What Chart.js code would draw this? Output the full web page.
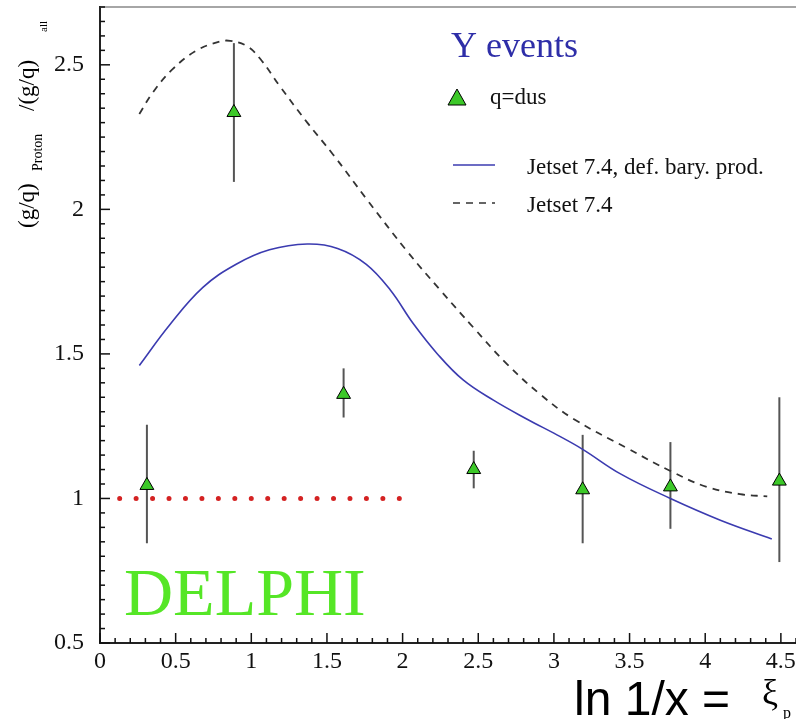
<!DOCTYPE html>
<html lang="en">
<head>
    <meta charset="UTF-8">
    <title>Proton g/q ratio vs xi_p</title>
    <script src="https://cdn.jsdelivr.net/npm/chart.js"></script>
    <style>
        body {
            margin: 0;
            background: white;
        }
        canvas {
            display: block;
        }
    </style>
</head>
<body>

    <canvas id="ratioChart" width="796" height="719"></canvas>

    <script>
        // DELPHI points (q=dus)
        const xiValues = [0.31, 0.885, 1.61, 2.47, 3.19, 3.77, 4.49];
        const ratioValues = [1.045, 2.335, 1.36, 1.10, 1.03, 1.04, 1.06];
        const errUp = [0.21, 0.24, 0.09, 0.065, 0.19, 0.155, 0.29];
        const errDown = [0.20, 0.24, 0.08, 0.065, 0.185, 0.145, 0.28];

        // Jetset 7.4, def. bary. prod. (solid blue)
        const baryX = [0.26, 0.46, 0.68, 0.90, 1.12, 1.37, 1.57, 1.76, 1.92, 2.07, 2.23, 2.40, 2.60, 2.82, 3.02, 3.19, 3.44, 3.77, 4.10, 4.44];
        const baryY = [1.46, 1.60, 1.73, 1.81, 1.86, 1.88, 1.865, 1.81, 1.72, 1.605, 1.50, 1.41, 1.34, 1.275, 1.22, 1.17, 1.085, 1.00, 0.925, 0.86];

        // Jetset 7.4 (dashed)
        const jetX = [0.26, 0.35, 0.48, 0.64, 0.79, 0.86, 0.97, 1.06, 1.19, 1.37, 1.54, 1.77, 2.03, 2.25, 2.47, 2.69, 2.91, 3.13, 3.48, 3.77, 4.01, 4.23, 4.41];
        const jetY = [2.33, 2.405, 2.485, 2.55, 2.58, 2.583, 2.565, 2.52, 2.425, 2.30, 2.19, 2.03, 1.855, 1.72, 1.59, 1.465, 1.36, 1.275, 1.175, 1.095, 1.04, 1.015, 1.007];

        // reference line at ratio 1
        const refX = [0.13, 1.99];
        const refY = [1, 1];

        const xTicks = [0, 0.5, 1, 1.5, 2, 2.5, 3, 3.5, 4, 4.5];
        const yTicks = [0.5, 1, 1.5, 2, 2.5];

        const toPoints = (xs, ys) => xs.map((x, i) => ({ x, y: ys[i] }));
        const serif = "'Liberation Serif', 'DejaVu Serif', serif";

        // error bars under the markers
        const errorBars = {
            id: "errorBars",
            beforeDatasetsDraw(chart) {
                const { ctx, scales: { x, y } } = chart;
                ctx.save();
                ctx.strokeStyle = "#555";
                ctx.lineWidth = 2;
                xiValues.forEach((xi, i) => {
                    const px = x.getPixelForValue(xi);
                    ctx.beginPath();
                    ctx.moveTo(px, y.getPixelForValue(ratioValues[i] + errUp[i]));
                    ctx.lineTo(px, y.getPixelForValue(ratioValues[i] - errDown[i]));
                    ctx.stroke();
                });
                ctx.restore();
            }
        };

        // inward ticks, x labels, frame, legend and titles
        const decorations = {
            id: "decorations",
            afterDraw(chart) {
                const { ctx, chartArea, scales: { x, y } } = chart;
                ctx.save();

                // top frame
                ctx.strokeStyle = "#888";
                ctx.lineWidth = 1.5;
                ctx.beginPath();
                ctx.moveTo(chartArea.left, chartArea.top);
                ctx.lineTo(chartArea.right, chartArea.top);
                ctx.stroke();

                // ticks
                ctx.strokeStyle = "#111";
                ctx.lineWidth = 1.5;
                for (let i = 0; i <= 46; i++) {
                    const px = x.getPixelForValue(i / 10);
                    const len = i % 5 === 0 ? 10 : 5;
                    ctx.beginPath();
                    ctx.moveTo(px, chartArea.bottom);
                    ctx.lineTo(px, chartArea.bottom - len);
                    ctx.stroke();
                }
                for (let i = 10; i <= 54; i++) {
                    const py = y.getPixelForValue(i / 20);
                    const len = i % 10 === 0 ? 10 : 5;
                    ctx.beginPath();
                    ctx.moveTo(chartArea.left, py);
                    ctx.lineTo(chartArea.left + len, py);
                    ctx.stroke();
                }

                // x tick labels
                ctx.fillStyle = "#111";
                ctx.font = "24px " + serif;
                ctx.textAlign = "center";
                ctx.textBaseline = "alphabetic";
                xTicks.forEach(v => {
                    ctx.fillText(String(v), x.getPixelForValue(v), chartArea.bottom + 25);
                });

                // legend
                ctx.textAlign = "left";
                ctx.fillStyle = "#2e2ea8";
                ctx.font = "36px " + serif;
                ctx.fillText("Y events", 451, 57);

                ctx.beginPath();
                ctx.moveTo(457, 89);
                ctx.lineTo(466, 105);
                ctx.lineTo(448, 105);
                ctx.closePath();
                ctx.fillStyle = "#3cc828";
                ctx.fill();
                ctx.strokeStyle = "#000";
                ctx.lineWidth = 1;
                ctx.stroke();

                ctx.fillStyle = "#111";
                ctx.font = "23px " + serif;
                ctx.fillText("q=dus", 490, 104);

                ctx.strokeStyle = "#3b3bb0";
                ctx.lineWidth = 1.6;
                ctx.beginPath();
                ctx.moveTo(453, 165);
                ctx.lineTo(495, 165);
                ctx.stroke();
                ctx.fillText("Jetset 7.4, def. bary. prod.", 527, 174);

                ctx.strokeStyle = "#333";
                ctx.setLineDash([7, 6]);
                ctx.beginPath();
                ctx.moveTo(453, 203);
                ctx.lineTo(495, 203);
                ctx.stroke();
                ctx.setLineDash([]);
                ctx.fillText("Jetset 7.4", 527, 212);

                // DELPHI
                ctx.fillStyle = "#55e626";
                ctx.font = "68px " + serif;
                ctx.fillText("DELPHI", 124, 615);

                // x-axis title
                ctx.fillStyle = "#000";
                ctx.font = "48px 'Liberation Sans', Arial, sans-serif";
                ctx.fillText("ln 1/x =", 574, 715);
                ctx.font = "36px " + serif;
                ctx.fillText("\u03be", 762, 704);
                ctx.font = "16px " + serif;
                ctx.fillText("p", 783, 718);

                // y-axis title (rotated)
                ctx.save();
                ctx.translate(34, 228);
                ctx.rotate(-Math.PI / 2);
                ctx.fillStyle = "#000";
                ctx.font = "23px " + serif;
                ctx.fillText("(g/q)", 0, 0);
                ctx.font = "14px " + serif;
                ctx.fillText("Proton", 57, 8);
                ctx.font = "23px " + serif;
                ctx.fillText("/(g/q)", 117, 0);
                ctx.font = "11px " + serif;
                ctx.fillText("all", 196, 13);
                ctx.restore();

                ctx.restore();
            }
        };

        new Chart(document.getElementById("ratioChart"), {
            type: "scatter",
            data: {
                datasets: [
                    {
                        label: "q=dus",
                        data: toPoints(xiValues, ratioValues),
                        pointStyle: "triangle",
                        pointRadius: 8,
                        pointBackgroundColor: "#3cc828",
                        pointBorderColor: "#000",
                        pointBorderWidth: 1
                    },
                    {
                        label: "Jetset 7.4, def. bary. prod.",
                        data: toPoints(baryX, baryY),
                        showLine: true,
                        pointRadius: 0,
                        borderColor: "#3b3bb0",
                        borderWidth: 1.6,
                        tension: 0.4
                    },
                    {
                        label: "Jetset 7.4",
                        data: toPoints(jetX, jetY),
                        showLine: true,
                        pointRadius: 0,
                        borderColor: "#333",
                        borderWidth: 1.8,
                        borderDash: [7, 6],
                        tension: 0.4
                    },
                    {
                        label: "ratio 1",
                        data: toPoints(refX, refY),
                        showLine: true,
                        pointRadius: 0,
                        borderColor: "#d42222",
                        borderWidth: 5,
                        borderCapStyle: "round",
                        borderDash: [0, 16.45]
                    }
                ]
            },
            options: {
                responsive: false,
                animation: false,
                layout: { autoPadding: false, padding: { top: 7, right: 0, left: 0, bottom: 0 } },
                plugins: {
                    legend: { display: false },
                    tooltip: { enabled: false }
                },
                scales: {
                    x: {
                        type: "linear",
                        min: 0,
                        max: 4.6,
                        afterFit(scale) {
                            scale.height = 76;
                        },
                        afterBuildTicks(scale) {
                            scale.ticks = xTicks.map(v => ({ value: v }));
                        },
                        grid: { display: true, drawOnChartArea: false, drawTicks: false },
                        border: { display: true, color: "#222", width: 2 },
                        ticks: { display: false }
                    },
                    y: {
                        min: 0.5,
                        max: 2.7,
                        afterFit(scale) {
                            scale.width = 100;
                            scale.paddingTop = 0;
                            scale.paddingBottom = 0;
                        },
                        afterBuildTicks(scale) {
                            scale.ticks = yTicks.map(v => ({ value: v }));
                        },
                        grid: { display: true, drawOnChartArea: false, drawTicks: false },
                        border: { display: true, color: "#222", width: 2 },
                        ticks: {
                            padding: 16,
                            color: "#111",
                            font: { family: serif, size: 24 },
                            callback: v => String(v)
                        }
                    }
                }
            },
            plugins: [errorBars, decorations]
        });
    </script>

</body>
</html>
